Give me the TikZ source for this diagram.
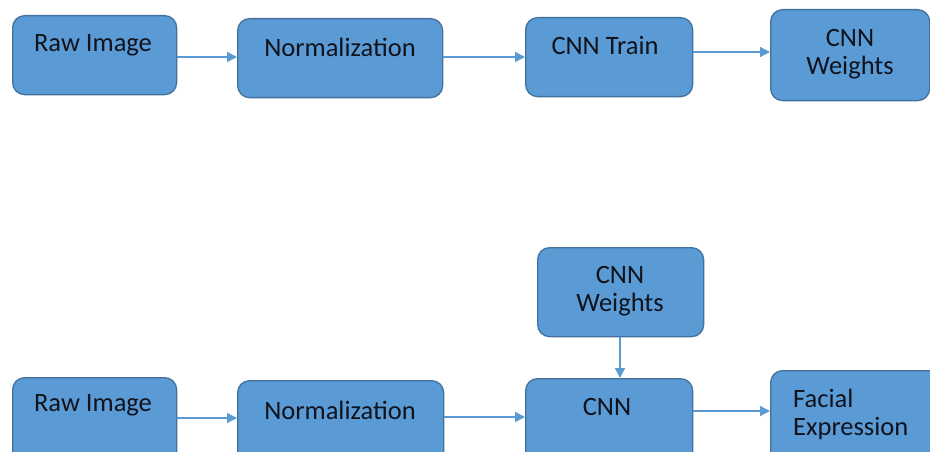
\documentclass[tikz,border=0pt]{standalone}
\usepackage{fontspec}
\setmainfont{Carlito}
\usetikzlibrary{arrows.meta}
\definecolor{boxfill}{HTML}{5B9BD5}
\definecolor{boxline}{HTML}{41719C}
\definecolor{arrowcol}{HTML}{5B9BD5}
\definecolor{txt}{HTML}{10131C}
\tikzset{
  box/.style={draw=boxline, fill=boxfill, line width=1.3pt, rounded corners=12pt},
  lbl/.style={text=txt, font=\fontsize{26.5}{28}\selectfont, align=center, inner sep=0pt},
  flow/.style={draw=arrowcol, line width=1.3pt, -{Triangle[length=10pt,width=10pt]}}
}
\begin{document}
\begin{tikzpicture}[x=1pt,y=-1pt]
\useasboundingbox (0,0) rectangle (930,452);
\clip (0,0) rectangle (930,452);
\fill[white] (0,0) rectangle (930,452);

% training pipeline
\node[box, anchor=north west, minimum width=164pt, minimum height=79pt] (a1) at (12,15) {};
\node[box, anchor=north west, minimum width=205pt, minimum height=79pt] (a2) at (237,18) {};
\node[box, anchor=north west, minimum width=167pt, minimum height=79pt] (a3) at (525,17) {};
\node[box, anchor=north west, minimum width=159pt, minimum height=91pt] (a4) at (770,9) {};
\node[lbl] (ta1) at (93,45) {Raw Image};
\node[lbl] (ta2) at (340,47) {Normalization};
\node[lbl] (ta3) at (605,45) {CNN Train};
\node[lbl] (ta4) at (850,54) {CNN\\Weights};

% recognition pipeline
\node[box, anchor=north west, minimum width=166pt, minimum height=89pt] (b0) at (537,247) {};
\node[box, anchor=north west, minimum width=164pt, minimum height=95pt] (b1) at (12,377) {};
\node[box, anchor=north west, minimum width=206pt, minimum height=95pt] (b2) at (237,380) {};
\node[box, anchor=north west, minimum width=167pt, minimum height=95pt] (b3) at (525,378) {};
\node[box, anchor=north west, minimum width=175pt, minimum height=105pt] (b4) at (770,370) {};
\node[lbl] (tb0) at (620,291) {CNN\\Weights};
\node[lbl] (tb1) at (93,405) {Raw Image};
\node[lbl] (tb2) at (340,410) {Normalization};
\node[lbl] (tb3) at (607,407) {CNN};
\node[lbl, align=left, anchor=west] (tb4) at (793,414) {Facial\\Expression};

% connectors
\draw[flow] (a1.east |- 0,57) -- (a2.west |- 0,57);
\draw[flow] (a2.east |- 0,57) -- (a3.west |- 0,57);
\draw[flow] (a3.east |- 0,52) -- (a4.west |- 0,52);
\draw[flow] (b0.south -| 620,0) -- (b3.north -| 620,0);
\draw[flow] (b1.east |- 0,418) -- (b2.west |- 0,418);
\draw[flow] (b2.east |- 0,417) -- (b3.west |- 0,417);
\draw[flow] (b3.east |- 0,411) -- (b4.west |- 0,411);
\end{tikzpicture}
\end{document}
